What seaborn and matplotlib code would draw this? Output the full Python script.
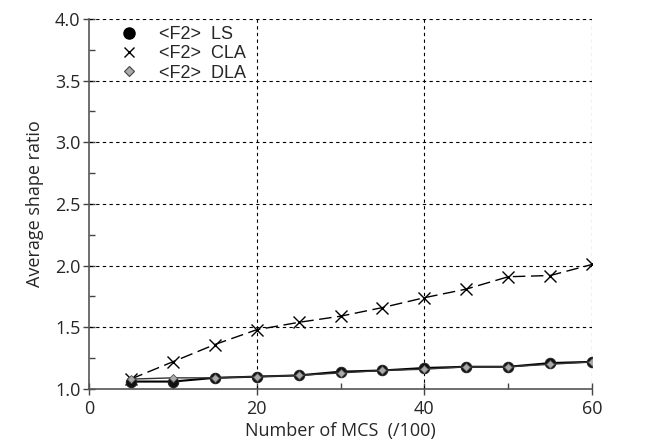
import numpy as np
import pandas as pd
import matplotlib
matplotlib.use("Agg")
import matplotlib.pyplot as plt
from matplotlib.lines import Line2D
from matplotlib.ticker import MultipleLocator
import seaborn as sns

# values
mcs = [5, 10, 15, 20, 25, 30, 35, 40, 45, 50, 55, 60]
ls_ratio = [1.06, 1.06, 1.09, 1.10, 1.11, 1.14, 1.15, 1.17, 1.18, 1.18, 1.21, 1.22]
cla_ratio = [1.08, 1.22, 1.36, 1.48, 1.54, 1.59, 1.66, 1.74, 1.81, 1.91, 1.92, 2.01]
dla_ratio = [1.08, 1.09, 1.09, 1.10, 1.11, 1.13, 1.15, 1.16, 1.18, 1.18, 1.20, 1.22]
labels = ["<F2>  LS", "<F2>  CLA", "<F2>  DLA"]

sns.set_style("ticks")
plt.rcParams["font.family"] = ["Open Sans", "DejaVu Sans"]

fig = plt.figure(figsize=(6.58, 4.42), dpi=100)
ax = fig.add_axes([0.135, 0.12, 0.765, 0.837])

sns.lineplot(x=mcs, y=cla_ratio, ax=ax, color="black", lw=1.0,
             dashes=False, linestyle=(0, (9, 4)), marker="x", markersize=8,
             markeredgewidth=1.0, markeredgecolor="black", zorder=3)
sns.lineplot(x=mcs, y=ls_ratio, ax=ax, color="black", lw=1.5,
             marker="o", markersize=7.5, markeredgecolor="#222222",
             markerfacecolor="#111111", zorder=4)
sns.lineplot(x=mcs, y=dla_ratio, ax=ax, color="#333333", lw=1.0,
             marker="D", markersize=4.5, markeredgecolor="#555555",
             markerfacecolor="#aaaaaa", markeredgewidth=0.6, zorder=5)

ax.set_xlim(0, 60)
ax.set_ylim(1.0, 4.0)
ax.xaxis.set_major_locator(MultipleLocator(20))
ax.xaxis.set_minor_locator(MultipleLocator(10))
ax.yaxis.set_major_locator(MultipleLocator(0.5))
ax.yaxis.set_minor_locator(MultipleLocator(0.25))
ax.yaxis.set_major_formatter(matplotlib.ticker.FormatStrFormatter("%.1f"))

# dashed grid, the top/right frame is also just grid lines
for xv in [20, 40, 60]:
    ax.axvline(xv, color="black", lw=0.8, ls=(0, (3, 3)), zorder=1)
for yv in [1.5, 2.0, 2.5, 3.0, 3.5, 4.0]:
    ax.axhline(yv, color="black", lw=0.8, ls=(0, (3, 3)), zorder=1)

sns.despine(ax=ax, top=True, right=True)
for side in ["left", "bottom"]:
    ax.spines[side].set_color("#555555")
    ax.spines[side].set_linewidth(1.2)

ax.tick_params(which="major", direction="inout", length=8, width=1,
               color="#444444", labelsize=13)
ax.tick_params(axis="x", which="major", pad=4)
ax.tick_params(axis="y", which="major", pad=2)
ax.tick_params(which="minor", direction="in", length=4, width=1,
               color="#444444")

ax.set_xlabel("Number of MCS  (/100)", fontsize=13, labelpad=3)
ax.set_ylabel("Average shape ratio", fontsize=13, labelpad=8)

handles = [
    Line2D([], [], ls="none", marker="o", markersize=8, color="black"),
    Line2D([], [], ls="none", marker="x", markersize=7, color="black",
           markeredgewidth=1.0),
    Line2D([], [], ls="none", marker="D", markersize=5,
           markerfacecolor="#aaaaaa", markeredgecolor="#444444",
           markeredgewidth=0.8),
]
ax.legend(handles, labels, loc="upper left", frameon=False,
          prop={"family": "Liberation Sans", "size": 13},
          handlelength=1.0, handletextpad=1.15, labelspacing=0.12,
          borderaxespad=0.0, bbox_to_anchor=(0.048, 1.0))

fig.savefig("out.png", dpi=100)
